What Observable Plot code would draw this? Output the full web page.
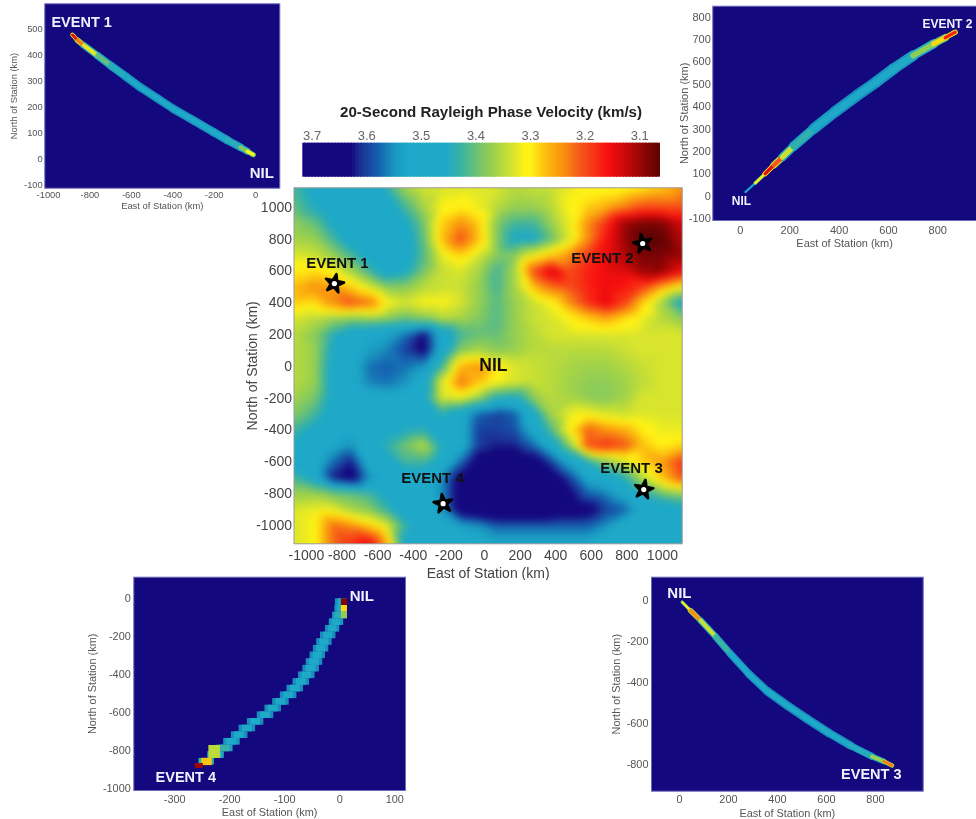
<!DOCTYPE html>
<html>
<head>
<meta charset="utf-8">
<script src="https://cdn.jsdelivr.net/npm/d3@7"></script>
<script src="https://cdn.jsdelivr.net/npm/@observablehq/plot@0.6"></script>
<style>
html,body{margin:0;padding:0;background:#fff;overflow:hidden;width:976px;height:819px}
#page{position:relative;width:976px;height:819px;overflow:hidden}
#page svg{position:absolute;background:transparent;}
#title{position:absolute;left:291px;width:400px;top:103px;text-align:center;font:bold 15.1px "Liberation Sans",sans-serif;color:#222;white-space:nowrap;filter:blur(0.4px)}
</style>
</head>
<body>
<div id="page"><div id="title">20-Second Rayleigh Phase Velocity (km/s)</div></div>
<script>
// ---------- Colour stops ----------
const velocityStops = [3.717,3.626,3.615,3.578,3.547,3.52,3.455,3.425,3.387,3.36,3.33,3.31,3.30,3.275,3.238,3.207,3.157,3.12,3.085,3.062];
const jetColours = ["#14087f","#14087f","#1c2a90","#1560b0","#1a9ac0","#1ea9c9","#1ea9c9","#3db3a0","#7dc765","#a8d545","#d9e52c","#fff215","#fff215","#fdc40f","#f98e0f","#f6561a","#f80f0f","#c10808","#820404","#5e0303"];
const kernelStops = [0,0.05,0.08,0.18,0.27,0.33,0.38,0.43,0.48,0.53,0.58,0.62,0.65,0.7,0.75,0.8,0.87,0.92,0.97,1];

// ---------- Main map: velocity read on a regular grid ----------
const gridX = [-1075,-954,-852,-750,-648,-545,-443,-341,-239,-136,-34,68,170,273,375,477,579,681,784,886,988,1115];
const gridY = [1125,1000,900,800,700,600,500,400,300,200,100,0,-100,-200,-300,-400,-500,-600,-700,-800,-900,-1000,-1120];
const velocityRows = [
[3.42,3.47,3.5,3.5,3.5,3.43,3.36,3.33,3.33,3.33,3.33,3.33,3.35,3.34,3.34,3.32,3.31,3.31,3.31,3.3,3.28,3.24],
[3.4,3.45,3.49,3.5,3.5,3.5,3.42,3.36,3.31,3.3,3.32,3.35,3.37,3.37,3.35,3.31,3.28,3.26,3.23,3.2,3.2,3.2],
[3.37,3.4,3.46,3.5,3.5,3.5,3.46,3.39,3.28,3.24,3.28,3.38,3.42,3.42,3.37,3.32,3.24,3.18,3.1,3.08,3.08,3.13],
[3.36,3.37,3.42,3.48,3.5,3.5,3.48,3.4,3.27,3.2,3.27,3.38,3.46,3.46,3.4,3.33,3.24,3.16,3.1,3.06,3.06,3.12],
[3.33,3.34,3.37,3.42,3.48,3.5,3.48,3.41,3.32,3.28,3.33,3.38,3.38,3.32,3.28,3.24,3.19,3.15,3.11,3.08,3.08,3.1],
[3.3,3.29,3.31,3.36,3.42,3.49,3.46,3.39,3.34,3.33,3.36,3.42,3.36,3.2,3.13,3.2,3.17,3.15,3.14,3.1,3.09,3.15],
[3.27,3.24,3.25,3.28,3.33,3.38,3.38,3.35,3.34,3.34,3.37,3.42,3.36,3.27,3.22,3.2,3.17,3.15,3.16,3.19,3.25,3.31],
[3.28,3.29,3.24,3.2,3.22,3.31,3.33,3.31,3.31,3.33,3.37,3.41,3.37,3.34,3.31,3.24,3.18,3.14,3.19,3.28,3.36,3.47],
[3.33,3.35,3.37,3.38,3.37,3.38,3.4,3.38,3.35,3.36,3.38,3.41,3.37,3.34,3.33,3.31,3.28,3.26,3.29,3.32,3.35,3.38],
[3.35,3.38,3.44,3.5,3.52,3.53,3.57,3.63,3.5,3.42,3.4,3.4,3.37,3.35,3.33,3.33,3.33,3.33,3.33,3.33,3.33,3.33],
[3.35,3.37,3.46,3.51,3.54,3.56,3.6,3.64,3.5,3.38,3.36,3.38,3.37,3.35,3.35,3.35,3.35,3.35,3.34,3.33,3.33,3.33],
[3.35,3.37,3.47,3.51,3.57,3.58,3.57,3.55,3.42,3.26,3.24,3.3,3.33,3.34,3.35,3.36,3.365,3.365,3.355,3.34,3.33,3.33],
[3.35,3.37,3.47,3.51,3.56,3.57,3.55,3.5,3.32,3.22,3.27,3.31,3.33,3.34,3.35,3.365,3.375,3.375,3.365,3.345,3.33,3.33],
[3.36,3.39,3.47,3.5,3.51,3.51,3.5,3.47,3.33,3.32,3.37,3.45,3.46,3.38,3.35,3.36,3.375,3.38,3.365,3.33,3.33,3.33],
[3.38,3.42,3.49,3.5,3.5,3.49,3.48,3.47,3.44,3.5,3.58,3.6,3.58,3.48,3.36,3.32,3.31,3.33,3.34,3.33,3.33,3.33],
[3.42,3.47,3.5,3.52,3.5,3.47,3.45,3.44,3.47,3.5,3.6,3.6,3.59,3.52,3.41,3.3,3.21,3.24,3.26,3.3,3.32,3.32],
[3.46,3.49,3.52,3.55,3.49,3.43,3.39,3.35,3.45,3.5,3.6,3.62,3.62,3.58,3.5,3.38,3.2,3.18,3.2,3.27,3.3,3.28],
[3.49,3.5,3.57,3.62,3.5,3.48,3.42,3.42,3.48,3.57,3.66,3.66,3.66,3.66,3.6,3.52,3.45,3.38,3.33,3.28,3.25,3.18],
[3.42,3.48,3.62,3.66,3.55,3.5,3.5,3.5,3.55,3.65,3.7,3.7,3.7,3.7,3.66,3.6,3.52,3.5,3.44,3.35,3.28,3.2],
[3.37,3.37,3.39,3.4,3.42,3.47,3.5,3.5,3.55,3.66,3.7,3.7,3.7,3.7,3.7,3.64,3.58,3.56,3.52,3.45,3.4,3.37],
[3.33,3.32,3.32,3.36,3.38,3.43,3.49,3.5,3.54,3.66,3.68,3.7,3.7,3.7,3.68,3.66,3.65,3.6,3.58,3.52,3.5,3.47],
[3.33,3.31,3.22,3.24,3.28,3.33,3.43,3.5,3.52,3.53,3.55,3.58,3.58,3.58,3.58,3.58,3.58,3.55,3.5,3.5,3.5,3.48],
[3.33,3.31,3.22,3.18,3.14,3.26,3.48,3.5,3.5,3.5,3.5,3.52,3.52,3.52,3.52,3.52,3.52,3.5,3.5,3.5,3.5,3.48]
];
const eventNames = ["EVENT 1","EVENT 2","EVENT 3","EVENT 4"];
const eventEast = [-843,889,895,-232];
const eventNorth = [520,772,-774,-863];
const eventTurn = [12,-12,10,-8];
const labelEast = [-826,663,826,-292];
const labelNorth = [650,679,-640,-705];
const barTicks = [3.7,3.6,3.5,3.4,3.3,3.2,3.1];
const mainTicksX = [-1000,-800,-600,-400,-200,0,200,400,600,800,1000];
const mainTicksY = [-1000,-800,-600,-400,-200,0,200,400,600,800,1000];

// ---------- Event 1 kernel ----------
const k1x = [-885,-860,-829,-764,-700,-628,-556,-475,-395,-298,-201,-137,-72,-40,-11];
const k1y = [476,455,435,396,358,316,274,232,190,146,101,71,43,28,15];
const k1v = [.95,.85,.68,.5,.42,.37,.36,.36,.36,.37,.37,.38,.42,.55,.75];
const k1w = [12,20,24,28,30,32,32,32,32,32,32,32,28,24,16];
// ---------- Event 2 kernel ----------
const k2x = [20,60,100,135,170,215,297,385,473,550,621,700,784,830,871];
const k2y = [18,58,100,138,174,222,301,378,450,510,569,628,681,708,733];
const k2v = [.3,.45,.85,.92,.68,.45,.38,.37,.36,.36,.37,.4,.6,.75,.95];
const k2w = [6,10,16,22,28,34,38,42,42,42,42,38,30,26,13];
// ---------- Event 3 kernel ----------
const k3x = [11,45,86,147,208,283,358,440,521,609,698,786,834,868];
const k3y = [-8,-49,-97,-175,-259,-357,-441,-511,-576,-644,-706,-759,-783,-803];
const k3v = [.4,.85,.65,.48,.38,.36,.35,.35,.35,.36,.37,.42,.62,.92];
const k3w = [9,18,27,27,31,31,36,36,36,36,31,27,22,13];
// ---------- Event 4 kernel, cell rows ----------
const k4top = [0,-35,-70,-105,-140,-175,-210,-245,-280,-315,-350,-385,-420,-455,-490,-525,-560,-595,-630,-665,-700,-735,-770,-805,-840];
const k4mid = [3,2,0,-6,-13,-21,-28,-34,-40,-46,-52,-60,-70,-81,-93,-107,-121,-135,-153,-168,-182,-196,-209,-225,-242];
const k4half = [11,11,13,13,13,14,14,14,14,15,15,15,15,15,15,15,15,15,15,15,15,15,15,15,14];
const k4v = [.36,.36,.4,.38,.36,.36,.36,.36,.36,.36,.36,.36,.36,.36,.36,.36,.36,.36,.36,.36,.36,.38,.42,.48,.6];
const hotX1 = [3,3,3,-238,-250,-263];
const hotX2 = [14,14,14,-217,-232,-248];
const hotY1 = [0,-35,-70,-772,-840,-867];
const hotY2 = [-35,-70,-105,-840,-878,-893];
const hotV = [.97,.68,.5,.55,.7,.95];

const page = document.getElementById("page");
const font = '"Liberation Sans", Arial, sans-serif';
const fmt = d => String(d);
const place = (svg, left, top) => { svg.style.left = left + "px"; svg.style.top = top + "px"; page.appendChild(svg); };
const kernelColor = {type:"linear", domain:kernelStops, range:jetColours, clamp:true};
const segs = (xs,ys,vs,ws,pxPerKm) => d3.range(xs.length-1).map(i => ({
  x1:xs[i], y1:ys[i], x2:xs[i+1], y2:ys[i+1], v:(vs[i]+vs[i+1])/2, w:(ws[i]+ws[i+1])/2*pxPerKm
}));
const kernelMarks = (s) => [
  Plot.link(s,{x1:"x1",y1:"y1",x2:"x2",y2:"y2",stroke:d=>d.v*0.7,strokeWidth:"w",strokeLinecap:"round"}),
  Plot.link(s,{x1:"x1",y1:"y1",x2:"x2",y2:"y2",stroke:"v",strokeWidth:d=>d.w*0.62,strokeLinecap:"round"})
];

function inset(cfg){
  const svg = Plot.plot({
    width:cfg.w, height:cfg.h,
    marginLeft:cfg.ml, marginRight:cfg.mr, marginTop:cfg.mt, marginBottom:cfg.mb,
    x:{domain:cfg.xd}, y:{domain:cfg.yd}, color:kernelColor,
    style:{fontFamily:font, fontSize:cfg.fs+"px", background:"transparent", filter:"blur(0.6px)"},
    marks:[
      Plot.frame({fill:"#14087f", stroke:"#6f6ab8", strokeWidth:1}),
      ...cfg.marks,
      Plot.axisX({ticks:cfg.xt, tickSize:0, tickPadding:cfg.tpx, tickFormat:fmt, label:"East of Station (km)", labelArrow:"none", labelAnchor:"center", labelOffset:cfg.lox, color:"#555"}),
      Plot.axisY({ticks:cfg.yt, tickSize:0, tickPadding:cfg.tpy, tickFormat:fmt, label:"North of Station (km)", labelArrow:"none", labelAnchor:"center", labelOffset:cfg.loy, color:"#555"}),
      ...cfg.labels.map(l => Plot.text([l.t],{x:()=>l.x,y:()=>l.y,text:d=>d,fill:"#f1f0ff",fontWeight:"bold",fontSize:l.s,fontFamily:font}))
    ]
  });
  place(svg,cfg.left,cfg.top);
}

// Event 1
inset({left:0,top:0,w:290,h:215,ml:44.3,mr:10.7,mt:3.3,mb:27.3,xd:[-1018,117],yd:[-114,595],fs:9.4,tpx:3,tpy:2,lox:21,loy:34,
  xt:[-1000,-800,-600,-400,-200,0],yt:[-100,0,100,200,300,400,500],
  marks:kernelMarks(segs(k1x,k1y,k1v,k1w,0.26)),
  labels:[{t:"EVENT 1",x:-840,y:523,s:14.5},{t:"NIL",x:30,y:-58,s:15}]});
// Event 2
inset({left:670,top:0,w:306,h:250,ml:42.3,mr:0,mt:5.7,mb:30,xd:[-112,957],yd:[-109,849],fs:11,tpx:6,tpy:2,lox:26,loy:33,
  xt:[0,200,400,600,800],yt:[-100,0,100,200,300,400,500,600,700,800],
  marks:kernelMarks(segs(k2x,k2y,k2v,k2w,0.27)),
  labels:[{t:"EVENT 2",x:839,y:767,s:12},{t:"NIL",x:4,y:-22,s:12}]});
// Event 4
inset({left:80,top:570,w:340,h:249,ml:53.3,mr:15,mt:6.7,mb:29,xd:[-374.5,119.5],yd:[-1009,114],fs:10.9,tpx:5,tpy:3,lox:25,loy:46,
  xt:[-300,-200,-100,0,100],yt:[-1000,-800,-600,-400,-200,0],
  marks:[
    Plot.rect(k4top,{x1:(d,i)=>k4mid[i]-k4half[i],x2:(d,i)=>k4mid[i]+k4half[i],y1:d=>d,y2:d=>d-35,fill:(d,i)=>k4v[i]*0.7}),
    Plot.rect(k4top,{x1:(d,i)=>k4mid[i]-k4half[i]*0.6,x2:(d,i)=>k4mid[i]+k4half[i]*0.6,y1:d=>d,y2:d=>d-35,fill:(d,i)=>k4v[i]}),
    Plot.rect(hotV,{x1:(d,i)=>hotX1[i],x2:(d,i)=>hotX2[i],y1:(d,i)=>hotY1[i],y2:(d,i)=>hotY2[i],fill:d=>d})
  ],
  labels:[{t:"EVENT 4",x:-280,y:-939,s:14.5},{t:"NIL",x:40,y:12,s:15}]});
// Event 3
inset({left:600,top:570,w:340,h:249,ml:51,mr:17.3,mt:6.7,mb:28.3,xd:[-114,995],yd:[-928,113],fs:10.9,tpx:4,tpy:3,lox:26,loy:39,
  xt:[0,200,400,600,800],yt:[-800,-600,-400,-200,0],
  marks:kernelMarks(segs(k3x,k3y,k3v,k3w,0.24)),
  labels:[{t:"EVENT 3",x:783,y:-847,s:14.5},{t:"NIL",x:0,y:35,s:15}]});

// Colour bar
const velocityColor = {type:"linear", domain:velocityStops, range:jetColours, clamp:true};
const barEdges = d3.range(3.062,3.71,0.006);
place(Plot.plot({
  width:375,height:60,marginLeft:7.3,marginRight:10,marginTop:22.7,marginBottom:3.3,
  x:{domain:[3.717,3.062]},y:{domain:[0,1]},color:velocityColor,
  style:{fontFamily:font,fontSize:"13px",background:"transparent",filter:"blur(0.5px)"},
  marks:[
    Plot.rect(barEdges,{x1:d=>d,x2:d=>Math.min(d+0.009,3.717),y1:()=>0,y2:()=>1,fill:d=>d+0.003}),
    Plot.axisX({anchor:"top",ticks:barTicks,tickSize:0,tickPadding:3,tickFormat:d=>d.toFixed(1),label:null,color:"#666"}),
    Plot.axisY({ticks:[],label:null})
  ]
}),295,120);

// Main map
const gridPoints = gridY.flatMap((y,j) => gridX.map((x,i) => ({x,y,v:velocityRows[j][i]})));
place(Plot.plot({
  width:450,height:400,marginLeft:53.5,marginRight:8.3,marginTop:7.3,marginBottom:36.7,
  x:{domain:[-1070,1111]},y:{domain:[-1115,1122]},color:velocityColor,
  style:{fontFamily:font,fontSize:"14px",background:"transparent",filter:"blur(0.5px)"},
  marks:[
    Plot.raster(gridPoints,{x:"x",y:"y",fill:"v",interpolate:"barycentric",pixelSize:1,blur:3}),
    Plot.frame({stroke:"#999",strokeWidth:1}),
    Plot.axisX({ticks:mainTicksX,tickSize:0,tickPadding:6,tickFormat:fmt,label:"East of Station (km)",labelArrow:"none",labelAnchor:"center",labelOffset:34,color:"#444"}),
    Plot.axisY({ticks:mainTicksY,tickSize:0,tickPadding:2,tickFormat:fmt,label:"North of Station (km)",labelArrow:"none",labelAnchor:"center",labelOffset:47,color:"#444"}),
    Plot.dot(eventNames,{x:(d,i)=>eventEast[i],y:(d,i)=>eventNorth[i],symbol:"star",r:5.8,rotate:(d,i)=>eventTurn[i],fill:"black",stroke:"black",strokeWidth:2.6,strokeLinejoin:"round"}),
    Plot.dot(eventNames,{x:(d,i)=>eventEast[i],y:(d,i)=>eventNorth[i],r:2.6,fill:"white"}),
    Plot.text(eventNames,{x:(d,i)=>labelEast[i],y:(d,i)=>labelNorth[i],text:d=>d,fill:"#111",fontWeight:"bold",fontSize:15,fontFamily:font}),
    Plot.text(["NIL"],{x:()=>50,y:()=>6,text:d=>d,fill:"#111",fontWeight:"bold",fontSize:17.5,fontFamily:font})
  ]
}),240,180);
</script>
</body>
</html>
